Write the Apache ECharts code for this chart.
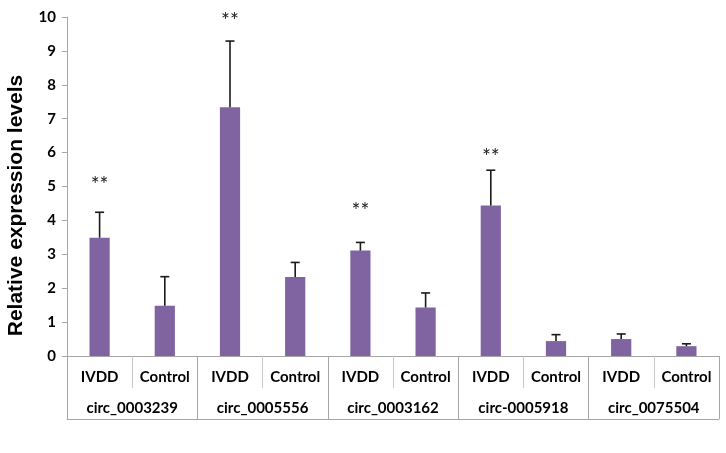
<!DOCTYPE html>
<html>
<head>
<meta charset="utf-8">
<script src="https://cdn.jsdelivr.net/npm/echarts@6/dist/echarts.min.js"></script>
<style>html,body{margin:0;padding:0;background:#fff}#c{width:726px;height:453px}</style>
</head>
<body>
<div id="c"></div>
<script>
var conditions = ['IVDD','Control','IVDD','Control','IVDD','Control','IVDD','Control','IVDD','Control'];
var groups = ['circ_0003239','circ_0005556','circ_0003162','circ-0005918','circ_0075504'];
var means = [3.49, 1.48, 7.34, 2.33, 3.11, 1.43, 4.44, 0.44, 0.50, 0.29];
var errTops = [4.24, 2.34, 9.29, 2.76, 3.35, 1.86, 5.48, 0.63, 0.65, 0.36];
var sigIndex = [0, 2, 4, 6];
var sigLevels = [5.12, 9.96, 4.36, 5.95];
var sigText = ['**','**','**','**'];
var yTicks = [0,1,2,3,4,5,6,7,8,9,10];

var chart = echarts.init(document.getElementById('c'));
var labelFont = 'Lato, "Open Sans", sans-serif';
var gray = '#a6a6a6';

var errData = means.map(function(m, i){ return [i, m, errTops[i]]; });
var sigData = sigIndex.map(function(idx, k){ return [idx, sigLevels[k], sigText[k]]; });

chart.setOption({
  animation: false,
  grid: { left: 67, right: 7, top: 17, bottom: 97, containLabel: false, outerBoundsMode: 'none' },
  xAxis: [
    {
      type: 'category', data: conditions, position: 'bottom',
      axisLine: { show: true, lineStyle: { color: gray, width: 1 } },
      axisTick: { show: true, interval: 0, length: 32, lineStyle: { color: '#c8c8c8' } },
      axisLabel: { interval: 0, margin: 14, color: '#000', fontWeight: 'bold', fontSize: 15, fontFamily: labelFont }
    },
    {
      type: 'category', data: groups, position: 'bottom',
      axisLine: { show: false },
      axisTick: { show: true, interval: 0, length: 63, lineStyle: { color: gray } },
      axisLabel: { interval: 0, margin: 45, color: '#000', fontWeight: 'bold', fontSize: 15, fontFamily: labelFont }
    },
    {
      type: 'category', data: groups, position: 'bottom', offset: 63,
      axisLine: { show: true, lineStyle: { color: gray } },
      axisTick: { show: false }, axisLabel: { show: false }
    }
  ],
  yAxis: {
    type: 'value', min: 0, max: 10, interval: 1,
    name: 'Relative expression levels', nameLocation: 'middle', nameGap: 40,
    nameTextStyle: { fontFamily: '"Liberation Sans", Arial, sans-serif', fontWeight: 'bold', fontSize: 21, color: '#000', padding: [0, 38, 0, 0] },
    axisLine: { show: true, lineStyle: { color: gray } },
    axisTick: { show: true, length: 5, lineStyle: { color: gray } },
    axisLabel: { margin: 11, color: '#000', fontWeight: 'bold', fontSize: 15, fontFamily: labelFont,
      formatter: function(v){ return yTicks.indexOf(v) >= 0 ? String(v) : ''; } },
    splitLine: { show: false }
  },
  series: [
    {
      type: 'bar', data: means, barWidth: '31%', xAxisIndex: 0,
      itemStyle: { color: '#8064A2' }, z: 2
    },
    {
      type: 'custom', xAxisIndex: 0, data: errData, z: 3,
      renderItem: function(params, api){
        var x = api.value(0);
        var p0 = api.coord([x, api.value(1)]);
        var p1 = api.coord([x, api.value(2)]);
        var cap = 4.5;
        var st = { stroke: '#1a1a1a', lineWidth: 1.6 };
        return { type: 'group', children: [
          { type: 'line', shape: { x1: p0[0], y1: p0[1], x2: p1[0], y2: p1[1] }, style: st },
          { type: 'line', shape: { x1: p1[0]-cap, y1: p1[1], x2: p1[0]+cap, y2: p1[1] }, style: st }
        ]};
      }
    },
    {
      type: 'custom', xAxisIndex: 0, data: sigData, z: 4,
      renderItem: function(params, api){
        var p = api.coord([api.value(0), api.value(1)]);
        return { type: 'text', x: p[0], y: p[1] + 3,
          style: { text: sigText[params.dataIndex], fill: '#222', font: '21px ' + labelFont, align: 'center', verticalAlign: 'middle' } };
      }
    }
  ]
});
</script>
</body>
</html>
